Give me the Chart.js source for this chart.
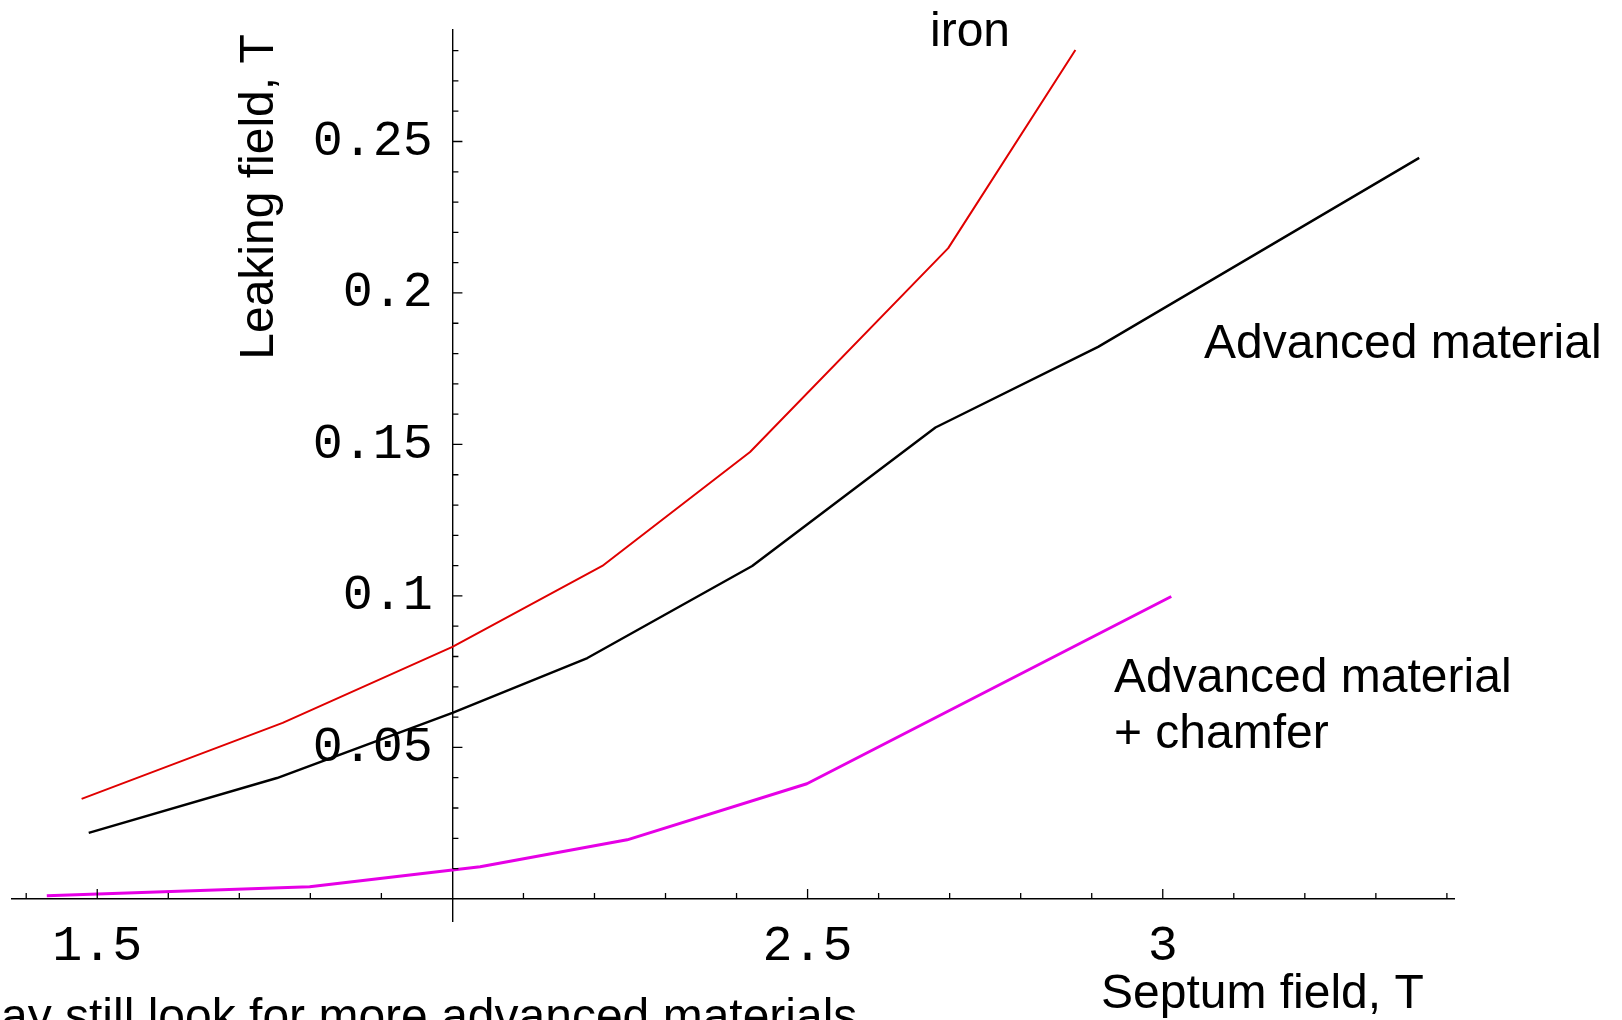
<!DOCTYPE html>
<html>
<head>
<meta charset="utf-8">
<script src="https://cdn.jsdelivr.net/npm/chart.js@4.4.1/dist/chart.umd.min.js"></script>
<style>
  html, body { margin: 0; padding: 0; background: #fff; }
  #wrap { width: 1622px; height: 1020px; position: relative; }
</style>
</head>
<body>
<div id="wrap"><canvas id="leakChart"></canvas></div>
<script>
// Septum field (T) vs leaking field (T)
const ironX = [1.478, 1.761, 2.0, 2.211, 2.419, 2.698, 2.877];
const ironY = [0.0330, 0.0581, 0.0832, 0.1099, 0.1475, 0.2148, 0.2802];

const advX = [1.488, 1.753, 2.0, 2.190, 2.422, 2.680, 2.909, 3.361];
const advY = [0.0218, 0.0399, 0.0614, 0.0795, 0.1099, 0.1556, 0.1822, 0.2446];

const chamferX = [1.429, 1.799, 2.039, 2.246, 2.499, 3.012];
const chamferY = [0.0010, 0.0040, 0.0106, 0.0195, 0.0380, 0.0998];

const xTickVals = [1.5, 2.5, 3];
const xTickLabels = ['1.5', '2.5', '3'];
const yTickVals = [0.05, 0.1, 0.15, 0.2, 0.25];
const yTickLabels = ['0.05', '0.1', '0.15', '0.2', '0.25'];

const toPoints = (xs, ys) => xs.map((x, i) => ({ x: x, y: ys[i] }));

const monoFamily = "'Liberation Mono', 'Courier New', monospace";
const sansFont = "48px 'Liberation Sans', Arial, sans-serif";
const yMin = -0.0073, yMax = 0.2868;

// Mathematica-style inward tick marks, plus the slide's text
const decorations = {
  id: 'decorations',
  afterDraw(chart) {
    const ctx = chart.ctx;
    const xs = chart.scales.x;
    const ys = chart.scales.y;
    const x0 = xs.getPixelForValue(2);
    const y0 = ys.getPixelForValue(0);
    ctx.save();
    ctx.strokeStyle = '#000';
    ctx.lineWidth = 1.3;
    ctx.beginPath();
    for (let i = 14; i <= 34; i++) {
      if (i === 20) continue;
      const px = xs.getPixelForValue(i / 10);
      const len = i % 5 === 0 ? 10 : 6;
      ctx.moveTo(px, y0);
      ctx.lineTo(px, y0 - len);
    }
    for (let j = 1; j <= 28; j++) {
      const py = ys.getPixelForValue(j / 100);
      const len = j % 5 === 0 ? 10 : 6;
      ctx.moveTo(x0, py);
      ctx.lineTo(x0 + len, py);
    }
    ctx.stroke();

    ctx.fillStyle = '#000';
    ctx.font = sansFont;
    ctx.textAlign = 'left';
    ctx.textBaseline = 'alphabetic';
    ctx.fillText('iron', 930, 46);
    ctx.fillText('Advanced material', 1204, 358);
    ctx.fillText('Advanced material', 1114, 692);
    ctx.fillText('+ chamfer', 1114, 748);
    ctx.fillText('Septum field, T', 1101, 1008);
    ctx.fillText('ay still look for more advanced materials', 1, 1032);

    ctx.translate(273, 197);
    ctx.rotate(-Math.PI / 2);
    ctx.textAlign = 'center';
    ctx.fillText('Leaking field, T', 0, 0);
    ctx.restore();
  }
};

new Chart(document.getElementById('leakChart').getContext('2d'), {
  type: 'line',
  data: {
    datasets: [
      {
        label: 'Advanced material + chamfer',
        data: toPoints(chamferX, chamferY),
        borderColor: '#e600e6',
        borderWidth: 3
      },
      {
        label: 'Advanced material',
        data: toPoints(advX, advY),
        borderColor: '#000000',
        borderWidth: 2.4
      },
      {
        label: 'iron',
        data: toPoints(ironX, ironY),
        borderColor: '#e00000',
        borderWidth: 2
      }
    ]
  },
  options: {
    responsive: true,
    maintainAspectRatio: false,
    animation: false,
    layout: { padding: { left: 12, right: 168, top: 30, bottom: 99 } },
    elements: {
      point: { radius: 0 },
      line: { tension: 0, fill: false, borderJoinStyle: 'round' }
    },
    plugins: {
      legend: { display: false },
      tooltip: { enabled: false }
    },
    scales: {
      x: {
        type: 'linear',
        position: { y: 0 },
        min: 1.38,
        max: 3.41,
        grid: { display: false, drawTicks: false },
        border: { display: true, color: '#000', width: 1.4 },
        afterBuildTicks: (axis) => { axis.ticks = xTickVals.map(v => ({ value: v })); },
        ticks: {
          autoSkip: false,
          maxRotation: 0,
          padding: 23,
          color: '#000',
          font: { family: monoFamily, size: 50, lineHeight: 1 },
          callback: (value, index) => xTickLabels[index]
        }
      },
      y: {
        type: 'linear',
        position: { x: 2 },
        min: yMin,
        max: yMax,
        grid: { display: false, drawTicks: false },
        border: { display: true, color: '#000', width: 1.4 },
        ticks: { display: false }
      },
      // label-only copy of the y axis, set a little left of the axis line
      yLabels: {
        type: 'linear',
        axis: 'y',
        position: { x: 1.9725 },
        min: yMin,
        max: yMax,
        grid: { display: false, drawTicks: false },
        border: { display: false },
        afterBuildTicks: (axis) => { axis.ticks = yTickVals.map(v => ({ value: v })); },
        ticks: {
          autoSkip: false,
          padding: 0,
          color: '#000',
          font: { family: monoFamily, size: 50, lineHeight: 0.2 },
          callback: (value, index) => yTickLabels[index]
        }
      }
    }
  },
  plugins: [decorations]
});
</script>
</body>
</html>
